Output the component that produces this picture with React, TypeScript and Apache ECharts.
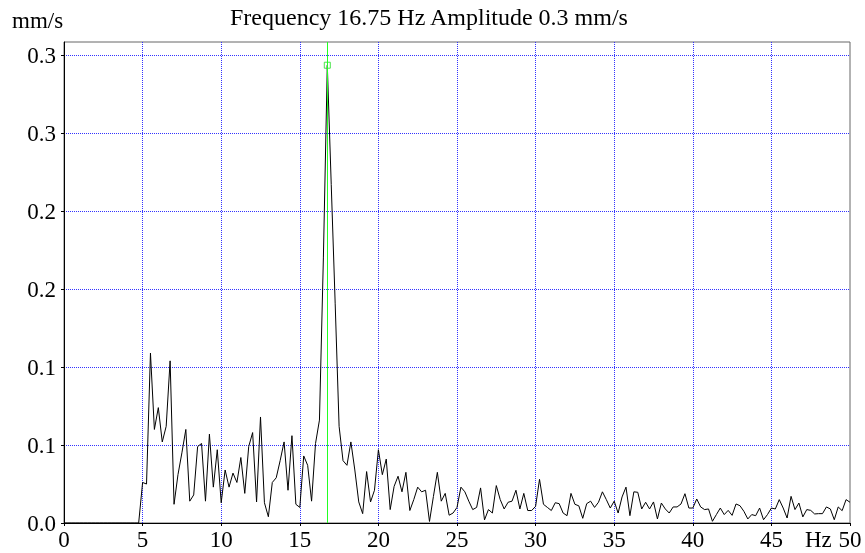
import React, { useEffect, useRef } from "react";
import * as echarts from "echarts";

// Spectrum sampled every 0.25 Hz, from 0 Hz to 50 Hz
const FREQ_STEP = 0.25;

// 0.00 .. 4.75 Hz
const AMP_0_TO_5 = [
  0, 0, 0, 0, 0, 0, 0, 0, 0, 0, 0, 0, 0, 0, 0, 0, 0, 0, 0, 0,
];
// 5.00 .. 14.75 Hz
const AMP_5_TO_15 = [
  0.026, 0.025, 0.109, 0.06,
  0.074, 0.052, 0.062, 0.104,
  0.012, 0.031, 0.045, 0.06,
  0.014, 0.018, 0.049, 0.051,
  0.014, 0.057, 0.023, 0.047,
  0.013, 0.034, 0.023, 0.032,
  0.026, 0.042, 0.019, 0.049,
  0.058, 0.0135, 0.068, 0.013,
  0.004, 0.026, 0.029, 0.04,
  0.052, 0.021, 0.056, 0.012,
];
// 15.00 .. 24.75 Hz
const AMP_15_TO_25 = [
  0.01, 0.043, 0.037, 0.014,
  0.051, 0.066, 0.17, 0.2936,
  0.217, 0.141, 0.062, 0.04,
  0.037, 0.052, 0.034, 0.0135,
  0.006, 0.033, 0.0135, 0.021,
  0.047, 0.031, 0.041, 0.0086,
  0.0235, 0.03, 0.02, 0.0325,
  0.008, 0.015, 0.023, 0.02,
  0.021, 0.001, 0.017, 0.0325,
  0.014, 0.019, 0.005, 0.0064,
];
// 25.00 .. 34.75 Hz
const AMP_25_TO_35 = [
  0.01, 0.023, 0.02, 0.014,
  0.0086, 0.01, 0.0225, 0.002,
  0.0086, 0.0064, 0.024, 0.015,
  0.009, 0.0133, 0.014, 0.021,
  0.009, 0.019, 0.008, 0.008,
  0.0107, 0.028, 0.012, 0.01,
  0.008, 0.013, 0.0124, 0.0064,
  0.0047, 0.019, 0.012, 0.011,
  0.003, 0.0124, 0.014, 0.01,
  0.0133, 0.02, 0.015, 0.0096,
];
// 35.00 .. 50.00 Hz
const AMP_35_TO_50 = [
  0.014, 0.0064, 0.0167, 0.023,
  0.0047, 0.02, 0.0197, 0.009,
  0.0133, 0.009, 0.0135, 0.0026,
  0.0128, 0.009, 0.0064, 0.0103,
  0.0103, 0.0122, 0.0188, 0.0096,
  0.0096, 0.0154, 0.0103, 0.0086,
  0.009, 0.0011, 0.0054, 0.0096,
  0.0054, 0.0081, 0.0049, 0.0122,
  0.0111, 0.0075, 0.0026, 0.0054,
  0.0047, 0.0096, 0.0021, 0.0054,
  0.0096, 0.009, 0.015, 0.0096,
  0.0032, 0.0171, 0.0086, 0.0128,
  0.0039, 0.0086, 0.0081, 0.0058,
  0.006, 0.006, 0.0103, 0.009,
  0.0021, 0.0103, 0.0079, 0.015,
  0.0133,
];

const Y_TICKS = [0, 0.05, 0.1, 0.15, 0.2, 0.25, 0.3];
const Y_TICK_LABELS = ["0.0", "0.1", "0.1", "0.2", "0.2", "0.3", "0.3"];
const Y_MAX = 0.3085;
const X_MIN = 0;
const X_MAX = 50;
const X_INTERVAL = 5;

const PEAK_FREQ = 16.75;
const PEAK_AMP = 0.2936;
const TITLE = "Frequency 16.75 Hz Amplitude 0.3 mm/s";
const Y_UNIT = "mm/s";
const X_UNIT = "Hz";

const FONT = "Liberation Serif";
const GRID_BLUE = "#3333ff";

export default function App() {
  const ref = useRef<HTMLDivElement>(null);

  useEffect(() => {
    if (!ref.current) return;
    const chart = echarts.init(ref.current, undefined, { renderer: "svg" });

    const amps = [
      ...AMP_0_TO_5,
      ...AMP_5_TO_15,
      ...AMP_15_TO_25,
      ...AMP_25_TO_35,
      ...AMP_35_TO_50,
    ];
    const data = amps.map((a, i) => [i * FREQ_STEP, a]);

    chart.setOption({
      animation: false,
      grid: {
        left: 64,
        top: 42,
        width: 786,
        height: 481,
        show: true,
        borderColor: "#666666",
        borderWidth: 1,
        backgroundColor: "transparent",
      },
      xAxis: {
        type: "value",
        min: X_MIN,
        max: X_MAX,
        interval: X_INTERVAL,
        axisLine: { show: true, lineStyle: { color: "#000", width: 1 } },
        axisTick: { show: true, length: 3, lineStyle: { color: "#000" } },
        axisLabel: {
          color: "#000",
          fontFamily: FONT,
          fontSize: 23,
          margin: 5,
          formatter: (v: number) => String(v),
        },
        splitLine: {
          show: true,
          showMinLine: false,
          showMaxLine: false,
          lineStyle: { color: GRID_BLUE, type: [1, 1], width: 1 },
        },
      },
      yAxis: {
        type: "value",
        min: 0,
        max: Y_MAX,
        interval: 0.05,
        axisLine: { show: true, lineStyle: { color: "#000", width: 1 } },
        axisTick: {
          show: true,
          length: 3,
          lineStyle: { color: "#000" },
        },
        axisLabel: {
          color: "#000",
          fontFamily: FONT,
          fontSize: 23,
          margin: 8,
          showMaxLabel: false,
          formatter: (v: number) => {
            const i = Y_TICKS.findIndex((t) => Math.abs(t - v) < 1e-6);
            return i >= 0 ? Y_TICK_LABELS[i] : "";
          },
        },
        splitLine: {
          show: true,
          showMinLine: false,
          showMaxLine: false,
          lineStyle: { color: GRID_BLUE, type: [1, 1], width: 1 },
        },
      },
      graphic: [
        {
          type: "text",
          x: 230,
          y: 5,
          style: {
            text: TITLE,
            fontFamily: FONT,
            fontSize: 24,
            fill: "#000",
          },
        },
        {
          type: "text",
          x: 12,
          y: 9,
          style: {
            text: Y_UNIT,
            fontFamily: FONT,
            fontSize: 23,
            fill: "#000",
          },
        },
        {
          type: "text",
          x: 805,
          y: 528,
          style: {
            text: X_UNIT,
            fontFamily: FONT,
            fontSize: 23,
            fill: "#000",
          },
        },
      ],
      series: [
        {
          type: "line",
          data,
          symbol: "none",
          showSymbol: false,
          silent: true,
          lineStyle: { color: "#000", width: 1 },
          markLine: {
            silent: true,
            symbol: ["none", "none"],
            label: { show: false },
            lineStyle: { color: "#22ff22", type: "solid", width: 1 },
            data: [{ xAxis: PEAK_FREQ }],
          },
          z: 3,
        },
        {
          type: "scatter",
          data: [[PEAK_FREQ, PEAK_AMP]],
          symbol: "rect",
          symbolSize: 6,
          silent: true,
          itemStyle: {
            color: "rgba(0,0,0,0)",
            borderColor: "#22dd22",
            borderWidth: 1,
          },
          z: 4,
        },
      ],
    });

    return () => chart.dispose();
  }, []);

  return (
    <div>
      <div
        ref={ref}
        style={{ position: "fixed", left: 0, top: 0, width: 865, height: 553 }}
      />
    </div>
  );
}
